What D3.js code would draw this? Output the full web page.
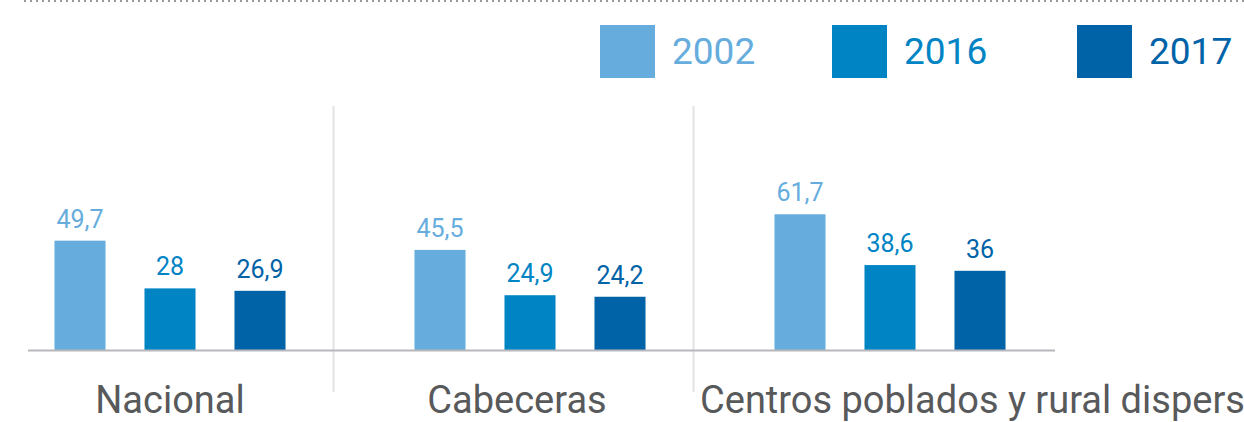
<!DOCTYPE html>
<html lang="es">
<head>
  <meta charset="UTF-8">
  <title>Pobreza</title>
  <script src="https://cdn.jsdelivr.net/npm/d3@7"></script>
  <style>
    body { margin: 0; background: #fff; }
    svg { display: block; font-family: Roboto, sans-serif; }
    .cat-label { fill: #58595b; font-size: 38px; }
    .val-label { font-size: 25px; }
    .legend text { font-size: 37px; }
  </style>
</head>
<body>
<svg width="1244" height="422"></svg>
<script>
  // datos
  const categories = ["Nacional", "Cabeceras", "Centros poblados y rural disperso"];
  const years = ["2002", "2016", "2017"];
  const values2002 = [49.7, 45.5, 61.7];
  const values2016 = [28, 24.9, 38.6];
  const values2017 = [26.9, 24.2, 36];
  const colors = ["#66addd", "#0084c4", "#0063a7"];

  const seriesValues = [values2002, values2016, values2017];
  const svg = d3.select("svg");
  const baseY = 350;

  // escalas
  const x0 = d3.scaleBand().domain(categories).range([-10, 1070]);
  const x1 = d3.scaleBand().domain(years).range([0, x0.bandwidth()])
    .paddingInner(0.433).paddingOuter(0.7165);
  const y = d3.scaleLinear().domain([0, 100]).range([baseY, 130]);
  const color = d3.scaleOrdinal().domain(years).range(colors);
  const fmt = v => String(v).replace(".", ",");

  // línea punteada superior
  svg.append("line")
    .attr("x1", 24).attr("x2", 1244).attr("y1", 1).attr("y2", 1)
    .attr("stroke", "#9a9a9a").attr("stroke-width", 2)
    .attr("stroke-dasharray", "2,4");

  // separadores
  svg.selectAll(".sep")
    .data(categories.slice(1))
    .join("line")
    .attr("class", "sep")
    .attr("x1", d => x0(d) - 16.5).attr("x2", d => x0(d) - 16.5)
    .attr("y1", 106).attr("y2", 392)
    .attr("stroke", "#e3e3e3").attr("stroke-width", 2);

  // barras
  const groups = svg.selectAll(".group")
    .data(categories)
    .join("g")
    .attr("class", "group")
    .attr("transform", d => `translate(${x0(d)},0)`);

  const cells = groups.selectAll(".cell")
    .data((d, i) => years.map((yr, j) => ({ year: yr, value: seriesValues[j][i] })))
    .join("g");

  cells.append("rect")
    .attr("x", d => x1(d.year))
    .attr("y", d => y(d.value))
    .attr("width", x1.bandwidth())
    .attr("height", d => baseY - y(d.value))
    .attr("fill", d => color(d.year));

  cells.append("text")
    .attr("class", "val-label")
    .attr("x", d => x1(d.year) + x1.bandwidth() / 2)
    .attr("y", d => y(d.value) - 13)
    .attr("text-anchor", "middle")
    .attr("fill", d => color(d.year))
    .text(d => fmt(d.value));

  // eje base
  svg.append("line")
    .attr("x1", 28).attr("x2", 1055).attr("y1", baseY + 0.5).attr("y2", baseY + 0.5)
    .attr("stroke", "#b8b8bc").attr("stroke-width", 2);

  // etiquetas de categoría (la última se corta en el borde, como en el original)
  const labelShift = [0, -13, 0];
  svg.selectAll(".cat-label")
    .data(categories)
    .join("text")
    .attr("class", "cat-label")
    .attr("x", (d, i) => i === 2 ? x0(d) - 10 : x0(d) + x0.bandwidth() / 2 + labelShift[i])
    .attr("y", 413)
    .attr("text-anchor", (d, i) => i === 2 ? "start" : "middle")
    .text(d => d);

  // leyenda
  const legendX = [600, 832, 1077];
  const legend = svg.append("g").attr("class", "legend")
    .selectAll("g")
    .data(years)
    .join("g")
    .attr("transform", (d, i) => `translate(${legendX[i]},25)`);

  legend.append("rect")
    .attr("width", 55).attr("height", 53)
    .attr("fill", d => color(d));

  legend.append("text")
    .attr("x", 72).attr("y", 39)
    .attr("fill", d => color(d))
    .text(d => d);
</script>
</body>
</html>
